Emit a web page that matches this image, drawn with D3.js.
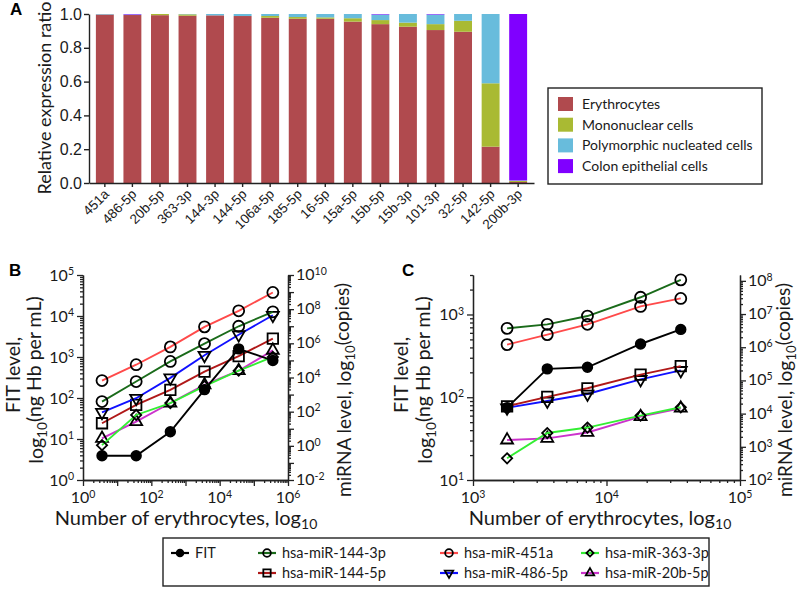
<!DOCTYPE html>
<html><head><meta charset="utf-8">
<script src="https://cdn.jsdelivr.net/npm/d3@7"></script>
<style>body{margin:0;background:#fff} svg{font-family:Lato,"Open Sans",sans-serif}</style>
</head><body><svg id="c" width="800" height="590"></svg>
<script>
// ---------- Panel A data ----------
const miRNAs = ["451a","486-5p","20b-5p","363-3p","144-3p","144-5p","106a-5p","185-5p","16-5p","15a-5p","15b-5p","15b-3p","101-3p","32-5p","142-5p","200b-3p"];
const erythrocytes = [0.997,0.994,0.993,0.990,0.992,0.988,0.978,0.972,0.972,0.955,0.940,0.925,0.905,0.895,0.215,0.006];
const mononuclear  = [0.000,0.000,0.007,0.008,0.000,0.000,0.010,0.010,0.008,0.020,0.024,0.024,0.035,0.065,0.375,0.006];
const polymorphic  = [0.003,0.003,0.000,0.002,0.008,0.012,0.012,0.018,0.020,0.025,0.033,0.051,0.057,0.040,0.410,0.003];
const colonEpi     = [0.000,0.003,0.000,0.000,0.000,0.000,0.000,0.000,0.000,0.000,0.003,0.000,0.003,0.000,0.000,0.985];
const cellTypes = ["Erythrocytes","Mononuclear cells","Polymorphic nucleated cells","Colon epithelial cells"];
const cellColors = ["#b04a4e","#a9ba33","#68bcdc","#8000ff"];
const ratioTicks = [0,0.2,0.4,0.6,0.8,1.0];

// ---------- Panel B data ----------
const cellsB = [3.6,36,360,3600,36000,360000];
const fitB      = [3.9,3.9,15,160,1580,820];
const m144_3pB  = [390,5800,8.7e4,9.6e5,1.0e7,7.0e7];
const m451aB    = [6.6e3,5.6e4,6.2e5,9.2e6,8.0e7,9.5e8];
const m363_3pB  = [1.1,64,320,3.1e3,2.5e4,1.6e5];
const m144_5pB  = [21,250,1.9e3,2.2e4,1.8e5,1.9e6];
const m486_5pB  = [92,610,9.5e3,2.0e5,3.2e6,4.4e7];
const m20b_5pB  = [2.7,26,320,3.7e3,2.5e4,3.9e5];

// ---------- Panel C data ----------
const cellsC = [1800,3600,7200,18000,36000];
const fitC      = [75,220,230,440,660];
const m144_3pC  = [3.7e6,4.9e6,8.7e6,3.2e7,1.07e8];
const m451aC    = [1.2e6,2.4e6,4.9e6,1.7e7,2.95e7];
const m363_3pC  = [450,2.6e3,3.8e3,8.7e3,1.55e4];
const m144_5pC  = [1.66e4,3.2e4,5.8e4,1.5e5,2.7e5];
const m486_5pC  = [1.5e4,2.4e4,3.9e4,1.07e5,2.0e5];
const m20b_5pC  = [1.6e3,1.8e3,2.7e3,8.1e3,1.45e4];

const seriesNames  = ["FIT","hsa-miR-144-3p","hsa-miR-451a","hsa-miR-363-3p","hsa-miR-144-5p","hsa-miR-486-5p","hsa-miR-20b-5p"];
const seriesColors = ["#000000","#1a6b1a","#ff4a4a","#33ee33","#b01818","#1010ff","#cc33cc"];
const seriesShapes = ["dot","circle","circle","diamond","square","tridown","triup"];

const svg = d3.select("#c");
const TXT = "#1a1a1a";

// ================= Panel A =================
(function(){
  const x = d3.scaleBand().domain(miRNAs).range([89,534]).paddingInner(0.35).paddingOuter(0.25);
  const y = d3.scaleLinear().domain([0,1]).range([183,14]);
  const rows = miRNAs.map((m,i)=>({m, e:erythrocytes[i], mo:mononuclear[i], p:polymorphic[i], c:colonEpi[i]}));
  const stack = d3.stack().keys(["e","mo","p","c"])(rows);
  const g = svg.append("g");
  stack.forEach((layer,k)=>{
    g.append("g").attr("fill",cellColors[k]).selectAll("rect").data(layer).join("rect")
      .attr("x",d=>x(d.data.m)).attr("width",x.bandwidth())
      .attr("y",d=>y(d[1])).attr("height",d=>Math.max(0,y(d[0])-y(d[1])));
  });
  const ya = g.append("g").attr("transform","translate(89,0)")
    .call(d3.axisLeft(y).tickValues(ratioTicks).tickFormat(d3.format(".1f")).tickSize(5).tickSizeOuter(0));
  ya.selectAll("text").attr("font-size",16).attr("fill",TXT).attr("x",-7);
  const xa = g.append("g").attr("transform","translate(0,183)")
    .call(d3.axisBottom(x).tickSize(4).tickSizeOuter(0));
  xa.selectAll("text").attr("font-size",13.5).attr("fill",TXT)
    .attr("text-anchor","end").attr("dy",null).attr("y",0)
    .attr("transform","translate(5,12) rotate(-45)");
  g.selectAll(".domain, .tick line").attr("stroke","#222").attr("stroke-width",1.4);
  svg.append("text").attr("x",10).attr("y",15).attr("font-weight","bold").attr("font-size",17).attr("font-family","Arial").text("A");
  svg.append("text").attr("transform","translate(51,98) rotate(-90)").attr("text-anchor","middle")
    .attr("font-size",18).attr("fill",TXT).text("Relative expression ratio");
  // legend
  const lg = svg.append("g");
  lg.append("rect").attr("x",548).attr("y",88).attr("width",214).attr("height",96).attr("fill","none").attr("stroke","#222").attr("stroke-width",1.4);
  cellTypes.forEach((t,i)=>{
    const yy = 104 + i*20.7;
    lg.append("rect").attr("x",558).attr("y",yy-7).attr("width",15).attr("height",14).attr("fill",cellColors[i]);
    lg.append("text").attr("x",582).attr("y",yy+5).attr("font-size",14).attr("fill",TXT).text(t);
  });
})();

// ================= helpers =================
function sup(textSel, base, exp, supSize){
  textSel.append("tspan").text(base);
  textSel.append("tspan").attr("dy","-0.5em").attr("font-size",supSize).text(exp);
}
function minorVals(lo, hi){
  const out=[];
  for(let e=lo;e<hi;e++) for(let k=2;k<=9;k++) out.push(k*Math.pow(10,e));
  return out;
}
function drawLogAxis(g, scale, orient, pos, majorExps, labelExps, minorLo, minorHi){
  const mk = orient==="left"?d3.axisLeft:orient==="right"?d3.axisRight:d3.axisBottom;
  const tr = orient==="bottom" ? `translate(0,${pos})` : `translate(${pos},0)`;
  const dom = scale.domain();
  const majors = majorExps.map(e=>Math.pow(10,e)).filter(v=>v>=dom[0]*0.999&&v<=dom[1]*1.001);
  const minors = minorVals(minorLo,minorHi).filter(v=>v>=dom[0]&&v<=dom[1]);
  g.append("g").attr("transform",tr).call(mk(scale).tickValues(minors).tickFormat("").tickSize(3).tickSizeOuter(0));
  g.append("g").attr("transform",tr).call(mk(scale).tickValues(majors).tickFormat("").tickSize(6).tickSizeOuter(0));
  g.selectAll(".domain,.tick line").attr("stroke","#222").attr("stroke-width",1.3);
  labelExps.forEach(e=>{
    const v=Math.pow(10,e);
    let t;
    if(orient==="left") t=g.append("text").attr("x",pos-9).attr("y",scale(v)+5.5).attr("text-anchor","end");
    else if(orient==="right") t=g.append("text").attr("x",pos+8).attr("y",scale(v)+5).attr("text-anchor","start");
    else t=g.append("text").attr("x",scale(v)).attr("y",pos+23).attr("text-anchor","middle");
    t.attr("font-size",16).attr("fill",TXT);
    sup(t,"10",String(e),10.5);
  });
}
function marker(g, shape, color, cx, cy, scaleF){
  const s = scaleF||1;
  const common = p=>p.attr("fill",shape==="dot"?"#000":"none").attr("stroke","#000").attr("stroke-width",1.8);
  if(shape==="dot"||shape==="circle"){
    common(g.append("circle").attr("cx",cx).attr("cy",cy).attr("r",(shape==="dot"?4.8:5.5)*s));
  } else {
    let type, size, rot=0;
    if(shape==="square"){type=d3.symbolSquare; size=110;}
    else if(shape==="diamond"){type=d3.symbolSquare; size=52; rot=45;}
    else if(shape==="triup"){type=d3.symbolTriangle; size=62;}
    else {type=d3.symbolTriangle; size=62; rot=180;}
    common(g.append("path").attr("d",d3.symbol(type,size*s*s)())
      .attr("transform",`translate(${cx},${cy}) rotate(${rot})`));
  }
}
function drawSeries(g, xs, ys, xScale, yScale, color, shape){
  const line = d3.line().x((d,i)=>xScale(xs[i])).y(d=>yScale(d));
  g.append("path").datum(ys).attr("d",line).attr("fill","none").attr("stroke",color).attr("stroke-width",1.9);
  ys.forEach((v,i)=>marker(g,shape,color,xScale(xs[i]),yScale(v)));
}
function subLabel(t, pre, sub, post){
  t.append("tspan").text(pre);
  t.append("tspan").attr("dy","0.3em").attr("font-size","0.7em").text(sub);
  t.append("tspan").attr("dy","-0.3em").text(post);
}
function titles(leftX1, leftX2, rightX, xMid){
  svg.append("text").attr("transform",`translate(${leftX1},375) rotate(-90)`).attr("text-anchor","middle").attr("font-size",19.5).attr("fill",TXT).text("FIT level,");
  subLabel(svg.append("text").attr("transform",`translate(${leftX2},380) rotate(-90)`).attr("text-anchor","middle").attr("font-size",19.5).attr("fill",TXT),"log","10","(ng Hb per mL)");
  subLabel(svg.append("text").attr("transform",`translate(${rightX},390) rotate(-90)`).attr("text-anchor","middle").attr("font-size",19).attr("fill",TXT),"miRNA level, log","10","(copies)");
  subLabel(svg.append("text").attr("x",xMid).attr("y",525).attr("text-anchor","middle").attr("font-size",20).attr("fill",TXT),"Number of erythrocytes, log","10","");
}

// ================= Panel B =================
(function(){
  const g = svg.append("g");
  const x = d3.scaleLog().domain([1,1e6]).range([83,288]);
  const yL = d3.scaleLog().domain([1,1e5]).range([480,275]);
  const yR = d3.scaleLog().domain([1e-2,1e10]).range([480,275]);
  drawLogAxis(g,x,"bottom",480,[0,1,2,3,4,5,6],[0,2,4,6],0,6);
  drawLogAxis(g,yL,"left",83,[0,1,2,3,4,5],[0,1,2,3,4,5],0,5);
  drawLogAxis(g,yR,"right",288,[-2,-1,0,1,2,3,4,5,6,7,8,9,10],[-2,0,2,4,6,8,10],-2,10);
  const data = [fitB,m144_3pB,m451aB,m363_3pB,m144_5pB,m486_5pB,m20b_5pB];
  const order=[6,3,4,5,2,1,0];
  order.forEach(k=>drawSeries(g,cellsB,data[k],x,k===0?yL:yR,seriesColors[k],seriesShapes[k]));
  svg.append("text").attr("x",9).attr("y",276).attr("font-weight","bold").attr("font-size",17).attr("font-family","Arial").text("B");
  titles(20,43,351,186);
})();

// ================= Panel C =================
(function(){
  const g = svg.append("g");
  const x = d3.scaleLog().domain([1e3,1e5]).range([473,740]);
  const yL = d3.scaleLog().domain([10,3000]).range([480,275]);
  const yR = d3.scaleLog().domain([100,1.5e8]).range([480,275]);
  drawLogAxis(g,x,"bottom",480,[3,4,5],[3,4,5],3,5);
  drawLogAxis(g,yL,"left",473,[1,2,3],[1,2,3],1,4);
  drawLogAxis(g,yR,"right",740,[2,3,4,5,6,7,8],[2,3,4,5,6,7,8],2,9);
  const data = [fitC,m144_3pC,m451aC,m363_3pC,m144_5pC,m486_5pC,m20b_5pC];
  const order=[6,3,5,4,2,1,0];
  order.forEach(k=>drawSeries(g,cellsC,data[k],x,k===0?yL:yR,seriesColors[k],seriesShapes[k]));
  svg.append("text").attr("x",402).attr("y",276).attr("font-weight","bold").attr("font-size",17).attr("font-family","Arial").text("C");
  titles(408,432,792,600);
})();

// ================= Bottom legend =================
(function(){
  const g = svg.append("g");
  g.append("rect").attr("x",163).attr("y",538).attr("width",546).attr("height",48).attr("fill","none").attr("stroke","#222").attr("stroke-width",1.4);
  const slots = [[180,553],[267,553],[449,553],[590,553],[267,573],[449,573],[590,573]];
  seriesNames.forEach((n,k)=>{
    const [cx,cy]=slots[k];
    g.append("line").attr("x1",cx-9).attr("x2",cx+9).attr("y1",cy).attr("y2",cy).attr("stroke",seriesColors[k]).attr("stroke-width",2.2);
    marker(g,seriesShapes[k],seriesColors[k],cx,cy,0.7);
    g.append("text").attr("x",cx+15).attr("y",cy+5).attr("font-size",14.5).attr("fill",TXT).text(n);
  });
})();
</script></body></html>
